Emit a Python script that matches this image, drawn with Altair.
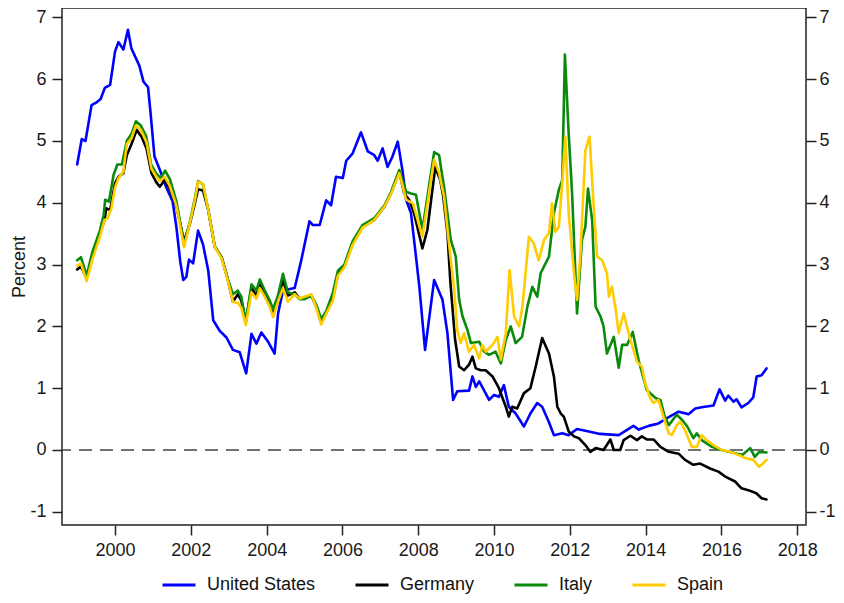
import altair as alt
import pandas as pd

FONT = "Liberation Sans"

COUNTRIES = ["United States", "Germany", "Italy", "Spain"]
COLORS = ["#0000FF", "#000000", "#0A8A0A", "#FFCC00"]

X_TICKS = [2000, 2002, 2004, 2006, 2008, 2010, 2012, 2014, 2016, 2018]
Y_TICKS = [-1, 0, 1, 2, 3, 4, 5, 6, 7]

US_YEARS = [1999.00, 1999.12, 1999.22, 1999.38, 1999.50, 1999.62, 1999.73, 1999.87, 2000.00, 2000.09,
            2000.22, 2000.34, 2000.43, 2000.64, 2000.75, 2000.87, 2000.93, 2001.04, 2001.17, 2001.35,
            2001.52, 2001.62, 2001.72, 2001.80, 2001.88, 2001.95, 2002.06, 2002.19, 2002.32, 2002.46,
            2002.59, 2002.76, 2002.94, 2003.11, 2003.29, 2003.46, 2003.60, 2003.73, 2003.86, 2004.04,
            2004.21, 2004.30, 2004.43, 2004.74, 2004.91, 2005.13, 2005.22, 2005.40, 2005.57, 2005.70,
            2005.83, 2006.01, 2006.10, 2006.27, 2006.49, 2006.67, 2006.84, 2006.93, 2007.06, 2007.19,
            2007.32, 2007.46, 2007.59, 2007.68, 2007.81, 2007.94, 2008.03, 2008.18, 2008.42, 2008.64,
            2008.77, 2008.92, 2009.03, 2009.34, 2009.43, 2009.52, 2009.61, 2009.87, 2010.00, 2010.13,
            2010.26, 2010.39, 2010.57, 2010.79, 2010.96, 2011.14, 2011.27, 2011.45, 2011.58, 2011.80,
            2011.97, 2012.19, 2012.50, 2012.80, 2013.29, 2013.68, 2013.82, 2014.08, 2014.34, 2014.61,
            2014.87, 2015.13, 2015.31, 2015.48, 2015.79, 2015.95, 2016.10, 2016.18, 2016.32, 2016.40,
            2016.53, 2016.71, 2016.84, 2016.93, 2017.06, 2017.19]
US_VALUES = [4.62, 5.03, 5.00, 5.58, 5.62, 5.68, 5.86, 5.91, 6.45, 6.60,
             6.48, 6.80, 6.50, 6.22, 5.96, 5.87, 5.50, 4.75, 4.55, 4.25,
             4.02, 3.60, 3.05, 2.75, 2.80, 3.08, 3.02, 3.55, 3.33, 2.90,
             2.10, 1.93, 1.82, 1.62, 1.58, 1.24, 1.88, 1.72, 1.90, 1.75,
             1.56, 2.20, 2.58, 2.62, 3.06, 3.70, 3.64, 3.64, 4.04, 3.96,
             4.42, 4.40, 4.68, 4.80, 5.14, 4.83, 4.77, 4.68, 4.88, 4.58,
             4.75, 4.99, 4.50, 4.05, 3.83, 3.13, 2.64, 1.62, 2.75, 2.43,
             1.89, 0.81, 0.95, 0.96, 1.19, 1.02, 1.11, 0.81, 0.89, 0.86,
             1.05, 0.70, 0.59, 0.38, 0.59, 0.76, 0.70, 0.45, 0.24, 0.27,
             0.24, 0.34, 0.30, 0.26, 0.24, 0.39, 0.33, 0.39, 0.43, 0.53,
             0.62, 0.58, 0.67, 0.69, 0.72, 0.98, 0.80, 0.88, 0.78, 0.82,
             0.69, 0.76, 0.85, 1.19, 1.21, 1.32]

DE_YEARS = [1999.00, 1999.10, 1999.25, 1999.40, 1999.60, 1999.72, 1999.77, 1999.87, 2000.00, 2000.09,
            2000.22, 2000.31, 2000.44, 2000.57, 2000.70, 2000.83, 2000.96, 2001.09, 2001.18, 2001.31,
            2001.44, 2001.62, 2001.82, 2001.97, 2002.11, 2002.19, 2002.32, 2002.46, 2002.63, 2002.81,
            2002.94, 2003.11, 2003.24, 2003.33, 2003.45, 2003.60, 2003.73, 2003.82, 2003.95, 2004.08,
            2004.17, 2004.30, 2004.43, 2004.56, 2004.74, 2004.87, 2005.00, 2005.18, 2005.31, 2005.44,
            2005.57, 2005.75, 2005.88, 2006.05, 2006.27, 2006.53, 2006.84, 2007.11, 2007.28, 2007.50,
            2007.63, 2007.76, 2007.89, 2008.11, 2008.24, 2008.45, 2008.58, 2008.66, 2008.77, 2008.85,
            2008.97, 2009.08, 2009.21, 2009.34, 2009.43, 2009.52, 2009.65, 2009.78, 2009.96, 2010.13,
            2010.31, 2010.39, 2010.48, 2010.61, 2010.79, 2010.96, 2011.10, 2011.27, 2011.45, 2011.58,
            2011.67, 2011.76, 2011.84, 2011.97, 2012.11, 2012.24, 2012.41, 2012.54, 2012.68, 2012.89,
            2013.07, 2013.16, 2013.33, 2013.42, 2013.60, 2013.77, 2013.90, 2014.03, 2014.21, 2014.39,
            2014.61, 2014.87, 2015.04, 2015.26, 2015.44, 2015.70, 2015.92, 2016.10, 2016.36, 2016.53,
            2016.71, 2016.92, 2017.06, 2017.19]
DE_VALUES = [2.92, 2.97, 2.78, 3.13, 3.50, 3.72, 3.91, 3.88, 4.32, 4.42,
             4.48, 4.77, 4.96, 5.18, 5.07, 4.88, 4.48, 4.33, 4.26, 4.37,
             4.23, 3.94, 3.38, 3.65, 4.00, 4.22, 4.20, 3.88, 3.29, 3.12,
             2.85, 2.40, 2.52, 2.42, 2.08, 2.62, 2.50, 2.70, 2.52, 2.36,
             2.18, 2.43, 2.75, 2.50, 2.55, 2.45, 2.45, 2.50, 2.32, 2.07,
             2.22, 2.46, 2.84, 2.97, 3.34, 3.61, 3.72, 3.94, 4.15, 4.50,
             4.15, 4.05, 3.83, 3.26, 3.56, 4.58, 4.37, 4.10, 3.51, 2.70,
             1.80, 1.35, 1.29, 1.38, 1.51, 1.32, 1.29, 1.29, 1.19, 1.00,
             0.70, 0.54, 0.70, 0.67, 0.92, 1.00, 1.35, 1.81, 1.56, 1.19,
             0.70, 0.59, 0.54, 0.30, 0.22, 0.19, 0.08, -0.03, 0.03, 0.00,
             0.17, 0.00, 0.00, 0.16, 0.23, 0.16, 0.22, 0.17, 0.17, 0.05,
             -0.03, -0.06, -0.16, -0.24, -0.22, -0.30, -0.35, -0.43, -0.51, -0.62,
             -0.65, -0.70, -0.78, -0.80]

IT_YEARS = [1999.00, 1999.10, 1999.25, 1999.40, 1999.60, 1999.70, 1999.74, 1999.84, 1999.96, 2000.06,
            2000.18, 2000.31, 2000.44, 2000.55, 2000.68, 2000.82, 2000.95, 2001.08, 2001.20, 2001.32,
            2001.45, 2001.62, 2001.82, 2001.97, 2002.11, 2002.19, 2002.32, 2002.46, 2002.63, 2002.81,
            2002.94, 2003.11, 2003.24, 2003.33, 2003.45, 2003.60, 2003.73, 2003.82, 2003.95, 2004.08,
            2004.17, 2004.30, 2004.43, 2004.56, 2004.74, 2004.87, 2005.00, 2005.18, 2005.31, 2005.44,
            2005.57, 2005.75, 2005.88, 2006.05, 2006.27, 2006.53, 2006.84, 2007.11, 2007.28, 2007.50,
            2007.68, 2007.81, 2007.94, 2008.11, 2008.42, 2008.55, 2008.68, 2008.77, 2008.86, 2008.99,
            2009.08, 2009.17, 2009.30, 2009.39, 2009.61, 2009.74, 2009.87, 2010.04, 2010.18, 2010.31,
            2010.44, 2010.57, 2010.74, 2010.88, 2011.01, 2011.14, 2011.23, 2011.36, 2011.45, 2011.58,
            2011.71, 2011.80, 2011.87, 2011.97, 2012.06, 2012.19, 2012.32, 2012.41, 2012.48, 2012.59,
            2012.68, 2012.81, 2012.89, 2012.98, 2013.16, 2013.29, 2013.38, 2013.51, 2013.66, 2013.82,
            2014.03, 2014.26, 2014.39, 2014.50, 2014.61, 2014.82, 2014.96, 2015.10, 2015.26, 2015.35,
            2015.48, 2015.75, 2016.00, 2016.28, 2016.55, 2016.76, 2016.88, 2017.00, 2017.19]
IT_VALUES = [3.07, 3.12, 2.82, 3.20, 3.55, 3.80, 4.05, 4.02, 4.45, 4.62,
             4.62, 5.00, 5.12, 5.32, 5.25, 5.08, 4.62, 4.48, 4.40, 4.52,
             4.38, 4.02, 3.32, 3.68, 4.08, 4.35, 4.30, 3.88, 3.30, 3.12,
             2.83, 2.52, 2.58, 2.48, 2.07, 2.68, 2.58, 2.76, 2.58, 2.42,
             2.28, 2.50, 2.85, 2.55, 2.52, 2.44, 2.44, 2.50, 2.35, 2.12,
             2.24, 2.55, 2.90, 3.00, 3.38, 3.64, 3.75, 3.96, 4.17, 4.53,
             4.18, 4.15, 4.13, 3.56, 4.82, 4.77, 4.26, 3.83, 3.40, 3.13,
             2.43, 2.16, 1.94, 1.73, 1.75, 1.59, 1.54, 1.59, 1.40, 1.78,
             2.00, 1.73, 1.83, 2.32, 2.64, 2.48, 2.86, 3.02, 3.13, 3.83,
             4.21, 4.37, 6.40, 5.12, 4.15, 2.21, 3.40, 3.61, 4.23, 3.72,
             2.32, 2.16, 2.00, 1.56, 1.83, 1.33, 1.70, 1.70, 1.91, 1.44,
             0.97, 0.84, 0.81, 0.55, 0.40, 0.57, 0.49, 0.38, 0.19, 0.27,
             0.16, 0.05, 0.00, -0.04, -0.08, 0.03, -0.11, -0.03, -0.04]

ES_YEARS = [1999.00, 1999.10, 1999.25, 1999.40, 1999.60, 1999.72, 1999.80, 1999.90, 2000.00, 2000.09,
            2000.22, 2000.31, 2000.44, 2000.55, 2000.68, 2000.83, 2000.96, 2001.09, 2001.18, 2001.31,
            2001.44, 2001.62, 2001.82, 2001.97, 2002.11, 2002.19, 2002.32, 2002.46, 2002.63, 2002.81,
            2002.94, 2003.11, 2003.24, 2003.33, 2003.45, 2003.60, 2003.73, 2003.82, 2003.95, 2004.08,
            2004.17, 2004.30, 2004.43, 2004.56, 2004.74, 2004.87, 2005.00, 2005.18, 2005.31, 2005.44,
            2005.57, 2005.75, 2005.88, 2006.05, 2006.27, 2006.53, 2006.84, 2007.11, 2007.28, 2007.50,
            2007.68, 2007.86, 2008.11, 2008.42, 2008.55, 2008.68, 2008.82, 2008.95, 2009.03, 2009.12,
            2009.21, 2009.34, 2009.47, 2009.61, 2009.69, 2009.78, 2009.96, 2010.09, 2010.18, 2010.31,
            2010.41, 2010.53, 2010.66, 2010.75, 2010.92, 2011.05, 2011.18, 2011.32, 2011.45, 2011.53,
            2011.62, 2011.71, 2011.80, 2011.88, 2011.97, 2012.11, 2012.19, 2012.28, 2012.41, 2012.52,
            2012.63, 2012.72, 2012.85, 2012.98, 2013.03, 2013.11, 2013.20, 2013.29, 2013.42, 2013.60,
            2013.77, 2013.90, 2013.99, 2014.12, 2014.21, 2014.34, 2014.47, 2014.61, 2014.69, 2014.82,
            2014.91, 2015.04, 2015.22, 2015.35, 2015.48, 2015.61, 2015.79, 2016.01, 2016.23, 2016.45,
            2016.62, 2016.84, 2016.99, 2017.11, 2017.19]
ES_VALUES = [2.98, 3.02, 2.73, 3.08, 3.45, 3.72, 3.75, 3.90, 4.25, 4.40,
             4.50, 4.95, 5.05, 5.25, 5.18, 4.98, 4.55, 4.42, 4.35, 4.42,
             4.28, 3.95, 3.28, 3.66, 4.05, 4.34, 4.31, 3.88, 3.29, 3.10,
             2.83, 2.40, 2.38, 2.30, 2.02, 2.55, 2.45, 2.62, 2.48, 2.32,
             2.15, 2.40, 2.62, 2.40, 2.52, 2.45, 2.48, 2.52, 2.30, 2.03,
             2.20, 2.42, 2.82, 2.95, 3.32, 3.60, 3.72, 3.94, 4.14, 4.48,
             4.05, 3.99, 3.45, 4.70, 4.48, 4.10, 3.29, 2.59, 1.94, 1.73,
             1.89, 1.59, 1.70, 1.48, 1.70, 1.59, 1.70, 1.83, 1.46, 1.89,
             2.91, 2.16, 2.00, 2.32, 3.45, 3.34, 3.07, 3.40, 3.51, 3.99,
             3.53, 3.61, 4.32, 5.07, 3.83, 2.86, 2.43, 3.18, 4.85, 5.07,
             3.94, 3.13, 3.07, 2.86, 2.48, 2.64, 2.32, 1.89, 2.21, 1.78,
             1.43, 1.35, 1.08, 0.84, 0.76, 0.81, 0.54, 0.27, 0.24, 0.40,
             0.46, 0.32, 0.05, 0.05, 0.24, 0.16, 0.08, 0.00, -0.03, -0.08,
             -0.13, -0.16, -0.27, -0.21, -0.16]

rows = []
for name, yrs, vals in [("United States", US_YEARS, US_VALUES),
                        ("Germany", DE_YEARS, DE_VALUES),
                        ("Italy", IT_YEARS, IT_VALUES),
                        ("Spain", ES_YEARS, ES_VALUES)]:
    for yr, v in zip(yrs, vals):
        rows.append({"country": name, "year": yr, "value": v})
df = pd.DataFrame(rows)
zero_df = pd.DataFrame({"value": [0]})

y_scale = alt.Scale(domain=[-1.214, 7.152], nice=False, zero=False)
x_scale = alt.Scale(domain=[1998.600, 2018.232], nice=False, zero=False)

lines = alt.Chart(df).mark_line(strokeWidth=2.6, strokeJoin="round", strokeCap="round").encode(
    x=alt.X("year:Q", scale=x_scale,
            axis=alt.Axis(values=X_TICKS, labelExpr="'' + datum.value", title=None,
                          tickSize=10, labelPadding=6, labelOverlap=False, labelFlush=False)),
    y=alt.Y("value:Q", scale=y_scale,
            axis=alt.Axis(orient="left", values=Y_TICKS, labelExpr="'' + datum.value",
                          title="Percent", titlePadding=1, tickSize=10, labelPadding=6,
                          labelOverlap=False, labelFlush=False)),
    color=alt.Color("country:N", sort=COUNTRIES,
                    scale=alt.Scale(domain=COUNTRIES, range=COLORS),
                    legend=alt.Legend(orient="none", legendX=99, legendY=559,
                                      direction="horizontal", columns=4, title=None,
                                      gridAlign="none",
                                      symbolType="stroke", symbolSize=1089,
                                      symbolStrokeWidth=3, labelFont=FONT,
                                      labelFontSize=18, labelColor="#111111",
                                      labelOffset=10, columnPadding=33, padding=0)),
)

zero = alt.Chart(zero_df).mark_rule(color="#444444", strokeWidth=1.5, strokeDash=[13, 8]).encode(
    y=alt.Y("value:Q", scale=y_scale,
            axis=alt.Axis(orient="right", values=Y_TICKS, labelExpr="'' + datum.value",
                          title=None, tickSize=10, labelPadding=3, labelOverlap=False,
                          labelFlush=False)),
)

chart = alt.layer(zero, lines).resolve_axis(y="independent").properties(
    width=744, height=517,
    padding={"left": 54, "top": 0, "right": 30, "bottom": 70},
    autosize=alt.AutoSizeParams(type="none"),
).configure_view(
    stroke="#222222", strokeWidth=1.5
).configure_axis(
    labelFont=FONT, labelFontSize=18, labelColor="#1a1a1a",
    tickColor="#222222", tickWidth=1.5, domain=False, grid=False,
    titleFont=FONT, titleFontSize=18, titleFontWeight="normal", titleColor="#1a1a1a",
)

chart.save("out.html", embed_options={"renderer": "svg", "actions": False})
